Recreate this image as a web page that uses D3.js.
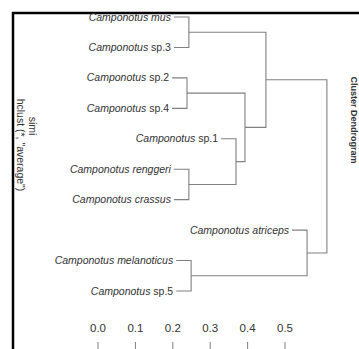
<!DOCTYPE html>
<html>
<head>
<meta charset="utf-8">
<script src="https://cdn.jsdelivr.net/npm/d3@7"></script>
<style>
  body { margin: 0; background: #fff; }
  svg { display: block; }
</style>
</head>
<body>
<div id="chart"></div>
<script>
// leaves in plotting order, merges as in hclust (negative = leaf, positive = earlier merge)
var leaves = ["Camponotus mus", "Camponotus sp.3", "Camponotus sp.2", "Camponotus sp.4",
              "Camponotus sp.1", "Camponotus renggeri", "Camponotus crassus",
              "Camponotus atriceps", "Camponotus melanoticus", "Camponotus sp.5"];
var merges = [[-1, -2], [-3, -4], [-6, -7], [-5, 3], [2, 4], [1, 5], [-9, -10], [-8, 7], [6, 8]];
var heights = [0.243, 0.238, 0.243, 0.369, 0.393, 0.449, 0.249, 0.559, 0.612];
var hang = 0.04;
var ticks = [0.0, 0.1, 0.2, 0.3, 0.4, 0.5];

var width = 359, height = 349;
var lineCol = "#808080", textCol = "#333";

var svg = d3.select("#chart").append("svg")
    .attr("width", width)
    .attr("height", height)
    .style("font-family", "'Liberation Sans', Arial, sans-serif");

var x = d3.scaleLinear().domain([0, 0.5]).range([98, 285]);
var y = d3.scalePoint().domain(leaves).range([17, 291]);

// frame lines (top and left)
svg.append("line").attr("x1", 12).attr("x2", width).attr("y1", 13).attr("y2", 13)
    .attr("stroke", "#000").attr("stroke-width", 2.5);
svg.append("line").attr("x1", 13).attr("x2", 13).attr("y1", 12).attr("y2", height)
    .attr("stroke", "#000").attr("stroke-width", 2.5);

// node positions
var nodes = merges.map(function(m, i) { return { h: heights[i] }; });
function pos(id, parentH) {
  if (id < 0) {
    var name = leaves[-id - 1];
    return { x: x(parentH - hang), y: y(name), leaf: name };
  }
  return nodes[id - 1];
}
merges.forEach(function(m, i) {
  var a = pos(m[0], heights[i]), b = pos(m[1], heights[i]);
  nodes[i].x = x(heights[i]);
  nodes[i].y = (a.y + b.y) / 2;
  nodes[i].kids = [a, b];
});

var g = svg.append("g").attr("fill", "none").attr("stroke", lineCol).attr("stroke-width", 1.1);
nodes.forEach(function(n) {
  var a = n.kids[0], b = n.kids[1];
  g.append("path")
    .attr("d", "M" + a.x + "," + a.y + "H" + n.x + "V" + b.y + "H" + b.x);
});

// leaf labels
var leafPts = [];
nodes.forEach(function(n) { n.kids.forEach(function(k) { if (k.leaf) leafPts.push(k); }); });
leafPts.forEach(function(p) {
  var parts = p.leaf.split(" ");
  var t = svg.append("text")
      .attr("x", p.x - 3)
      .attr("y", p.y + 3.5)
      .attr("text-anchor", "end")
      .attr("font-size", "10.5px")
      .attr("fill", textCol);
  t.append("tspan").attr("font-style", "italic").text(parts[0] + " ");
  t.append("tspan").attr("font-style", /^sp\./.test(parts[1]) ? "normal" : "italic").text(parts[1]);
});

// axis along the bottom
var ax = svg.append("g");
ax.selectAll("text").data(ticks).enter().append("text")
    .attr("x", function(d) { return x(d); })
    .attr("y", 332)
    .attr("text-anchor", "middle")
    .attr("font-size", "11.5px")
    .attr("fill", textCol)
    .text(function(d) { return d3.format(".1f")(d); });
ax.selectAll("line").data(ticks).enter().append("line")
    .attr("x1", function(d) { return x(d); })
    .attr("x2", function(d) { return x(d); })
    .attr("y1", 342).attr("y2", height)
    .attr("stroke", lineCol);

// rotated annotations
svg.append("text")
    .attr("transform", "translate(17,145) rotate(90)")
    .attr("text-anchor", "middle")
    .attr("font-size", "10.5px")
    .attr("fill", textCol)
    .text('hclust (*, "average")');
svg.append("text")
    .attr("transform", "translate(29,126) rotate(90)")
    .attr("text-anchor", "middle")
    .attr("font-size", "10.5px")
    .attr("fill", textCol)
    .text("simi");
svg.append("text")
    .attr("transform", "translate(351,120) rotate(90)")
    .attr("text-anchor", "middle")
    .attr("font-size", "9px")
    .attr("font-weight", "bold")
    .attr("fill", textCol)
    .text("Cluster Dendrogram");
</script>
</body>
</html>
